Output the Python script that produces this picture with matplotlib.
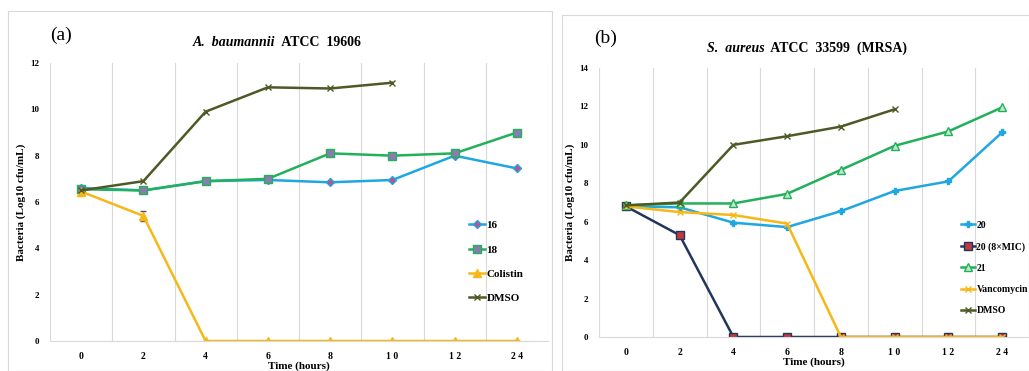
import matplotlib.pyplot as plt
from matplotlib.patches import Rectangle
import numpy as np

# time points (category axis, not linear)
times = ['0', '2', '4', '6', '8', '10', '12', '24']

# panel (a) A. baumannii
a_16 = [6.6, 6.5, 6.9, 6.95, 6.85, 6.95, 8.0, 7.45]
a_18 = [6.55, 6.5, 6.9, 7.0, 8.1, 8.0, 8.1, 9.0]
a_colistin = [6.45, 5.4, 0, 0, 0, 0, 0, 0]
a_colistin_err = [0, 0.2, 0, 0, 0, 0, 0, 0]
a_dmso = [6.5, 6.9, 9.9, 10.95, 10.9, 11.15]

# panel (b) S. aureus
b_20 = [6.8, 6.75, 5.95, 5.72, 6.55, 7.6, 8.1, 10.65]
b_20mic = [6.8, 5.3, 0, 0, 0, 0, 0, 0]
b_21 = [6.85, 6.95, 6.95, 7.45, 8.7, 9.95, 10.7, 11.95]
b_vanco = [6.8, 6.5, 6.35, 5.9, 0, 0, 0, 0]
b_dmso = [6.85, 7.0, 10.0, 10.45, 10.95, 11.85]

blue = '#1ea7e0'
green = '#22b05a'
gold = '#f6b816'
olive = '#4d5a26'
navy = '#22355e'

plt.rcParams['font.family'] = ['Liberation Serif', 'DejaVu Serif']

W, H = 1029, 371
fig = plt.figure(figsize=(W / 100, H / 100), dpi=100)

# light panel frames
fig.patches.append(Rectangle((8 / W, 0), 544 / W, 1 - 11 / H, transform=fig.transFigure,
                             fill=False, edgecolor='#d9d9d9', linewidth=0.8))
fig.patches.append(Rectangle((562 / W, 0), 470 / W, 1 - 15 / H, transform=fig.transFigure,
                             fill=False, edgecolor='#d9d9d9', linewidth=0.8))


def style_axes(ax, ymax, ystep):
    x = np.arange(len(times))
    ax.set_xlim(-0.5, len(times) - 0.5)
    ax.set_ylim(0, ymax)
    ticks = np.arange(0, ymax + 1, ystep)
    ax.set_yticks(ticks)
    ax.set_yticklabels([str(v) for v in ticks], fontsize=6.5, fontweight='bold')
    ax.set_xticks(x)
    ax.set_xticklabels([' '.join(t) for t in times], fontsize=7, fontweight='bold')
    for b in np.arange(-0.5, len(times), 1):
        ax.axvline(b, color='#d9d9d9', linewidth=0.8, zorder=0)
    for s in ['top', 'right', 'left']:
        ax.spines[s].set_visible(False)
    ax.spines['bottom'].set_color('#d9d9d9')
    ax.tick_params(length=0, pad=8)
    ax.set_xlabel('Time (hours)', fontsize=8, fontweight='bold', labelpad=0)
    ax.set_ylabel('Bacteria (Log10 cfu/mL)', fontsize=8, fontweight='bold', labelpad=3)


x = np.arange(len(times))

# ---- panel (a)
ax1 = fig.add_axes([50 / W, 1 - 341 / H, 498 / W, 278 / H])
h16, = ax1.plot(x, a_16, color=blue, lw=1.8, marker='D', ms=4, mfc='#c0508f', mec=blue, label='16')
h18, = ax1.plot(x, a_18, color=green, lw=1.8, marker='s', ms=5.5, mfc='#8a7bb0', mec=green, label='18')
ax1.errorbar(x, a_colistin, yerr=a_colistin_err, fmt='none', ecolor='#555555', elinewidth=0.8, capsize=2)
hcol, = ax1.plot(x, a_colistin, color=gold, lw=1.8, marker='^', ms=5.5, label='Colistin')
hdm, = ax1.plot(x[:len(a_dmso)], a_dmso, color=olive, lw=1.8, marker='x', ms=5, label='DMSO')
style_axes(ax1, 12, 2)
ax1.legend(handles=[h16, h18, hcol, hdm], loc='upper left', bbox_to_anchor=(463 / W, 1 - 215 / H),
           bbox_transform=fig.transFigure, frameon=False, prop={'weight': 'bold', 'size': 8},
           handlelength=1.5, handletextpad=0.1, labelspacing=1.3, borderpad=0)

# ---- panel (b)
ax2 = fig.add_axes([599 / W, 1 - 337 / H, 430 / W, 269 / H])
ax2.plot(x, b_20, color=blue, lw=1.8, marker='P', ms=4.5, mfc=blue, mec=blue, label='20')
ax2.plot(x, b_20mic, color=navy, lw=1.8, marker='s', ms=5.5, mfc='#c0393b', mec=navy, label='20 (8×MIC)')
ax2.plot(x, b_21, color=green, lw=1.8, marker='^', ms=5.5, mfc='#bfe6c8', mec=green, label='21')
ax2.plot(x, b_vanco, color=gold, lw=1.8, marker='x', ms=5, label='Vancomycin')
ax2.plot(x[:len(b_dmso)], b_dmso, color=olive, lw=1.8, marker='x', ms=5, label='DMSO')
style_axes(ax2, 14, 2)
ax2.legend(loc='upper left', bbox_to_anchor=(956 / W, 1 - 216 / H),
           bbox_transform=fig.transFigure, frameon=False, prop={'weight': 'bold', 'size': 7},
           handlelength=1.5, handletextpad=0.1, labelspacing=1.25, borderpad=0)

# titles: italic species name + bold strain
r = fig.canvas.get_renderer()
for xc, yc, sp, rest in [(277, 42, 'A.  baumannii', '  ATCC  19606'),
                         (807, 48, 'S.  aureus', '  ATCC  33599  (MRSA)')]:
    t1 = fig.text(0, 0, sp, fontsize=10, fontweight='bold', fontstyle='italic', va='center')
    t2 = fig.text(0, 0, rest, fontsize=10, fontweight='bold', va='center')
    w1 = t1.get_window_extent(r).width
    w2 = t2.get_window_extent(r).width
    x0 = xc - (w1 + w2) / 2
    t1.set_position((x0 / W, 1 - yc / H))
    t2.set_position(((x0 + w1) / W, 1 - yc / H))

fig.text(50 / W, 1 - 35 / H, '(a)', fontsize=14, ha='left', va='center')
fig.text(594 / W, 1 - 38 / H, '(b)', fontsize=14, ha='left', va='center')

fig.savefig('out.png', dpi=100)
